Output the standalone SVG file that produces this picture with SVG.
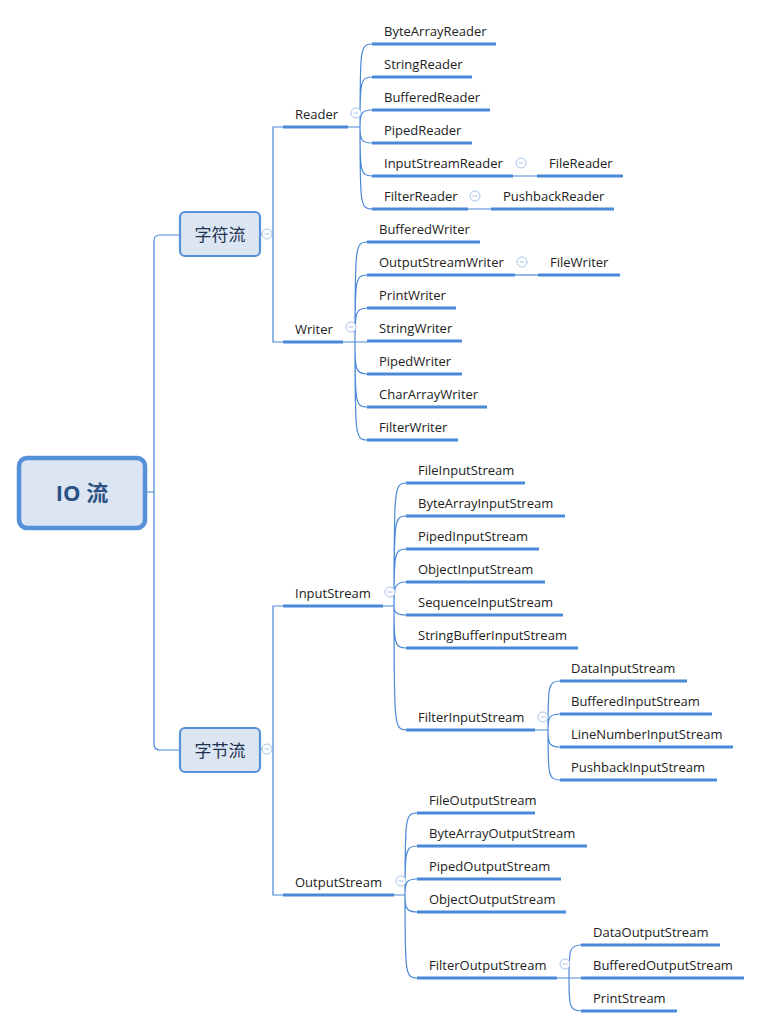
<svg xmlns="http://www.w3.org/2000/svg" width="762" height="1028" viewBox="0 0 762 1028">
<style>
.bg{fill:#ffffff}
.conn{fill:none;stroke:#4a88d8;stroke-width:1.2}
.ul{stroke:#4a88d8;stroke-width:3;stroke-linecap:butt}
.t{font-family:"Open Sans","DejaVu Sans",sans-serif;font-size:13px;fill:#222}
.cn{font-family:"Noto Sans CJK SC",sans-serif;font-size:17px;fill:#1e3252;text-anchor:middle}
.root{font-family:"Open Sans","Noto Sans CJK SC",sans-serif;font-size:22px;font-weight:bold;fill:#2c5183;text-anchor:middle}
.box{fill:#dce6f2;stroke:#5590d9;stroke-width:2.2}
.rbox{fill:#dce6f2;stroke:#5590d9;stroke-width:4.5}
.col{fill:#ffffff;stroke:#a8c3ec;stroke-width:1}
.colm{stroke:#a8c3ec;stroke-width:1}
</style>
<defs>
<g id="collapse"><circle class="col" cx="0" cy="0" r="5"/><line class="colm" x1="-2.5" y1="0" x2="2.5" y2="0"/></g>
</defs>
<rect class="bg" x="0" y="0" width="762" height="1028"/>
<g id="connectors">
<path class="conn" d="M146,492 H154 M180,235 H160 Q154,235 154,241 V744 Q154,750 160,750 H180"/>
<path class="conn" d="M260,234 H273 M283,127 H273 V342 H283"/>
<path class="conn" d="M260,749 H273 M283,606 H273 V895 H283"/>
<path class="conn" d="M348,127 H360 M360,127 C360,50 360,44 372,44 M360,127 C360,83 360,77 372,77 M360,127 C360,114 361,110 372,110 M360,127 C360,139 361,143 372,143 M360,127 C360,170 360,176 372,176 M360,127 C360,203 360,209 372,209"/>
<path class="conn" d="M513,176 H537 M468,209 H491"/>
<path class="conn" d="M343,342 H355 M355,342 C355,248 355,242 367,242 M355,342 C355,281 355,275 367,275 M355,342 C355,314 355,308 367,308 M355,342 H367 M355,342 C355,368 355,374 367,374 M355,342 C355,401 355,407 367,407 M355,342 C355,434 355,440 367,440"/>
<path class="conn" d="M515,275 H538"/>
<path class="conn" d="M383,606 H394 M394,606 C394,489 394,483 406,483 M394,606 C394,522 394,516 406,516 M394,606 C394,555 394,549 406,549 M394,606 C394,588 394,582 406,582 M394,606 C394,611 395,615 406,615 M394,606 C394,642 394,648 406,648 M394,606 C394,724 394,730 406,730"/>
<path class="conn" d="M535,730 H548 M548,730 C548,687 548,681 560,681 M548,730 C548,718 549,714 560,714 M548,730 C548,743 549,747 560,747 M548,730 C548,774 548,780 560,780"/>
<path class="conn" d="M394,895 H405 M405,895 C405,819 405,813 417,813 M405,895 C405,852 405,846 417,846 M405,895 C405,883 406,879 417,879 M405,895 C405,906 405,912 417,912 M405,895 C405,972 405,978 417,978"/>
<path class="conn" d="M557,978 H569 M569,978 C569,951 569,945 581,945 M569,978 H581 M569,978 C569,1005 569,1011 581,1011"/>
</g>
<g id="root"><rect class="rbox" x="19" y="458" width="126" height="70" rx="8"/><text class="root" x="82" y="501">IO 流</text></g>
<g id="char"><rect class="box" x="180" y="212" width="80" height="44" rx="5"/><text class="cn" x="220" y="241">字符流</text><use href="#collapse" x="267" y="234"/></g>
<g id="byte"><rect class="box" x="180" y="728" width="80" height="44" rx="5"/><text class="cn" x="220" y="757">字节流</text><use href="#collapse" x="267" y="749"/></g>
<g id="reader"><line class="ul" x1="283" y1="127" x2="348" y2="127"/><text class="t" x="295" y="119">Reader</text><use href="#collapse" x="356" y="113"/></g>
<g id="bytearrayreader"><line class="ul" x1="372" y1="44" x2="496" y2="44"/><text class="t" x="384" y="36">ByteArrayReader</text></g>
<g id="stringreader"><line class="ul" x1="372" y1="77" x2="472" y2="77"/><text class="t" x="384" y="69">StringReader</text></g>
<g id="bufferedreader"><line class="ul" x1="372" y1="110" x2="490" y2="110"/><text class="t" x="384" y="102">BufferedReader</text></g>
<g id="pipedreader"><line class="ul" x1="372" y1="143" x2="472" y2="143"/><text class="t" x="384" y="135">PipedReader</text></g>
<g id="inputstreamreader"><line class="ul" x1="372" y1="176" x2="513" y2="176"/><text class="t" x="384" y="168">InputStreamReader</text><use href="#collapse" x="521" y="163"/></g>
<g id="filereader"><line class="ul" x1="537" y1="176" x2="623" y2="176"/><text class="t" x="549" y="168">FileReader</text></g>
<g id="filterreader"><line class="ul" x1="372" y1="209" x2="468" y2="209"/><text class="t" x="384" y="201">FilterReader</text><use href="#collapse" x="475" y="196"/></g>
<g id="pushbackreader"><line class="ul" x1="491" y1="209" x2="614" y2="209"/><text class="t" x="503" y="201">PushbackReader</text></g>
<g id="writer"><line class="ul" x1="283" y1="342" x2="343" y2="342"/><text class="t" x="295" y="334">Writer</text><use href="#collapse" x="351" y="327"/></g>
<g id="bufferedwriter"><line class="ul" x1="367" y1="242" x2="480" y2="242"/><text class="t" x="379" y="234">BufferedWriter</text></g>
<g id="outputstreamwriter"><line class="ul" x1="367" y1="275" x2="515" y2="275"/><text class="t" x="379" y="267">OutputStreamWriter</text><use href="#collapse" x="522" y="262"/></g>
<g id="filewriter"><line class="ul" x1="538" y1="275" x2="620" y2="275"/><text class="t" x="550" y="267">FileWriter</text></g>
<g id="printwriter"><line class="ul" x1="367" y1="308" x2="456" y2="308"/><text class="t" x="379" y="300">PrintWriter</text></g>
<g id="stringwriter"><line class="ul" x1="367" y1="341" x2="462" y2="341"/><text class="t" x="379" y="333">StringWriter</text></g>
<g id="pipedwriter"><line class="ul" x1="367" y1="374" x2="462" y2="374"/><text class="t" x="379" y="366">PipedWriter</text></g>
<g id="chararraywriter"><line class="ul" x1="367" y1="407" x2="487" y2="407"/><text class="t" x="379" y="399">CharArrayWriter</text></g>
<g id="filterwriter"><line class="ul" x1="367" y1="440" x2="458" y2="440"/><text class="t" x="379" y="432">FilterWriter</text></g>
<g id="inputstream"><line class="ul" x1="283" y1="606" x2="383" y2="606"/><text class="t" x="295" y="598">InputStream</text><use href="#collapse" x="390" y="592"/></g>
<g id="fileinputstream"><line class="ul" x1="406" y1="483" x2="525" y2="483"/><text class="t" x="418" y="475">FileInputStream</text></g>
<g id="bytearrayinputstream"><line class="ul" x1="406" y1="516" x2="565" y2="516"/><text class="t" x="418" y="508">ByteArrayInputStream</text></g>
<g id="pipedinputstream"><line class="ul" x1="406" y1="549" x2="539" y2="549"/><text class="t" x="418" y="541">PipedInputStream</text></g>
<g id="objectinputstream"><line class="ul" x1="406" y1="582" x2="545" y2="582"/><text class="t" x="418" y="574">ObjectInputStream</text></g>
<g id="sequenceinputstream"><line class="ul" x1="406" y1="615" x2="563" y2="615"/><text class="t" x="418" y="607">SequenceInputStream</text></g>
<g id="stringbufferinputstream"><line class="ul" x1="406" y1="648" x2="578" y2="648"/><text class="t" x="418" y="640">StringBufferInputStream</text></g>
<g id="filterinputstream"><line class="ul" x1="406" y1="730" x2="535" y2="730"/><text class="t" x="418" y="722">FilterInputStream</text><use href="#collapse" x="543" y="717"/></g>
<g id="datainputstream"><line class="ul" x1="560" y1="681" x2="687" y2="681"/><text class="t" x="571" y="673">DataInputStream</text></g>
<g id="bufferedinputstream"><line class="ul" x1="560" y1="714" x2="712" y2="714"/><text class="t" x="571" y="706">BufferedInputStream</text></g>
<g id="linenumberinputstream"><line class="ul" x1="560" y1="747" x2="733" y2="747"/><text class="t" x="571" y="739">LineNumberInputStream</text></g>
<g id="pushbackinputstream"><line class="ul" x1="560" y1="780" x2="717" y2="780"/><text class="t" x="571" y="772">PushbackInputStream</text></g>
<g id="outputstream"><line class="ul" x1="283" y1="895" x2="394" y2="895"/><text class="t" x="295" y="887">OutputStream</text><use href="#collapse" x="401" y="881"/></g>
<g id="fileoutputstream"><line class="ul" x1="417" y1="813" x2="535" y2="813"/><text class="t" x="429" y="805">FileOutputStream</text></g>
<g id="bytearrayoutputstream"><line class="ul" x1="417" y1="846" x2="587" y2="846"/><text class="t" x="429" y="838">ByteArrayOutputStream</text></g>
<g id="pipedoutputstream"><line class="ul" x1="417" y1="879" x2="561" y2="879"/><text class="t" x="429" y="871">PipedOutputStream</text></g>
<g id="objectoutputstream"><line class="ul" x1="417" y1="912" x2="566" y2="912"/><text class="t" x="429" y="904">ObjectOutputStream</text></g>
<g id="filteroutputstream"><line class="ul" x1="417" y1="978" x2="557" y2="978"/><text class="t" x="429" y="970">FilterOutputStream</text><use href="#collapse" x="565" y="964"/></g>
<g id="dataoutputstream"><line class="ul" x1="581" y1="945" x2="720" y2="945"/><text class="t" x="593" y="937">DataOutputStream</text></g>
<g id="bufferedoutputstream"><line class="ul" x1="581" y1="978" x2="744" y2="978"/><text class="t" x="593" y="970">BufferedOutputStream</text></g>
<g id="printstream"><line class="ul" x1="581" y1="1011" x2="677" y2="1011"/><text class="t" x="593" y="1003">PrintStream</text></g>
</svg>
